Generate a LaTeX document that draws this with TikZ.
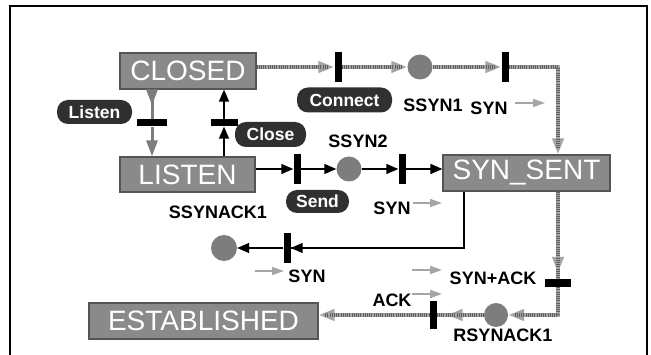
\documentclass[tikz,border=0pt]{standalone}
\usepackage{fontspec}
\setmainfont{Liberation Sans}
\usetikzlibrary{arrows.meta}
\definecolor{boxgray}{RGB}{138,138,138}
\definecolor{boxedge}{RGB}{85,85,85}
\definecolor{placegray}{RGB}{125,125,125}
\definecolor{pilldark}{RGB}{48,48,48}
\definecolor{ropegray}{RGB}{165,165,165}
\definecolor{ropestripe}{RGB}{95,95,95}
\definecolor{lightarrow}{RGB}{165,165,165}
\definecolor{listengray}{RGB}{125,125,125}
\begin{document}
\begin{tikzpicture}[x=1pt,y=-1pt,
  state/.style={draw=boxedge, line width=1.2pt, fill=boxgray, text=white,
    font=\fontsize{28}{30}\selectfont, inner sep=0pt},
  place/.style={circle, fill=placegray, minimum size=25pt, inner sep=0pt},
  vbar/.style={fill=black, minimum width=7pt, minimum height=30pt, inner sep=0pt},
  hbar/.style={fill=black, minimum width=30pt, minimum height=7pt, inner sep=0pt},
  pill/.style={fill=pilldark, text=white, rounded corners=11pt,
    font=\bfseries\fontsize{17.5}{19}\selectfont, inner sep=0pt},
  lbl/.style={font=\bfseries\fontsize{18}{20}\selectfont, inner sep=0pt},
  blk/.style={line width=1.5pt, draw=black, -{Triangle[length=12pt,width=10pt]}},
  blkline/.style={line width=1.5pt, draw=black},
  gry/.style={line width=1.5pt, draw=lightarrow, -{Triangle[length=12pt,width=8pt]}},
  gline/.style={line width=3pt, draw=listengray},
  garrow/.style={line width=3pt, draw=listengray, -{Triangle[length=16pt,width=11pt]}},
  rope/.style={line width=4pt, draw=ropegray, -{Triangle[length=16pt,width=11pt]},
    postaction={draw=ropestripe, arrows=-, line width=4pt,
      dash pattern=on 0.8pt off 1.4pt, shorten >=6pt}},
  ropeline/.style={line width=4pt, draw=ropegray,
    postaction={draw=ropestripe, line width=4pt, dash pattern=on 0.8pt off 1.4pt}}
]
\useasboundingbox (0,0) rectangle (651,355);
\fill[white] (0,0) rectangle (651,355);
\draw[line width=2.5pt] (10,355) -- (10,6) -- (647,6) -- (647,355);

% states
\node[state, minimum width=136pt, minimum height=36pt] (CLOSED) at (188,71) {CLOSED};
\node[state, minimum width=135pt, minimum height=35pt] (LISTEN) at (187.5,174.5) {LISTEN};
\node[state, minimum width=167pt, minimum height=36pt] (SYNSENT) at (526.5,173) {SYN\_SENT};
\node[state, minimum width=229pt, minimum height=36pt] (EST) at (203.5,321) {ESTABLISHED};

% top branch
\node[vbar] (b1) at (338,67) {};
\node[place] (S1) at (420,67) {};
\node[vbar] (b2) at (505,67) {};
\coordinate (c1) at (558,67);
\draw[rope] (CLOSED.east |- b1) -- (b1.west);
\draw[rope] (b1.east) -- (S1.west);
\draw[rope] (S1.east) -- (b2.west);
\draw[rope] (b2.east) -- (c1) -- (SYNSENT.north -| c1);
\node[pill, minimum width=95pt, minimum height=25pt] (connect) at (344.5,100) {Connect};
\node[lbl] (lS1) at (433,105) {SSYN1};
\node[lbl] (lsyn1) at (489,108) {SYN};
\coordinate (g1a) at (515,103);
\coordinate (g1b) at (545,103);
\draw[gry] (g1a) -- (g1b);

% Listen / Close
\node[hbar] (hb1) at (152,123) {};
\node[hbar, minimum width=27pt] (hb2) at (224,123) {};
\draw[gline] (hb1 |- CLOSED.south) -- (hb1.north);
\draw[garrow, shorten >=14pt] (hb1 |- CLOSED.south) -- (hb1.north);
\draw[garrow] (hb1.south) -- (hb1 |- LISTEN.north);
\draw[blk] (hb2 |- LISTEN.north) -- (hb2.south);
\draw[blk] (hb2.north) -- (hb2 |- CLOSED.south);
\node[pill, minimum width=75pt, minimum height=24pt] (listen) at (94.5,112) {Listen};
\node[pill, minimum width=71pt, minimum height=25pt] (close) at (270.5,134.5) {Close};

% middle branch
\node[vbar] (b3) at (297,169) {};
\node[place] (S2) at (349,169) {};
\node[vbar] (b4) at (402,169) {};
\draw[blk] (LISTEN.east |- b3) -- (b3.west);
\draw[blk] (b3.east) -- (S2.west);
\draw[blk] (S2.east) -- (b4.west);
\draw[blk] (b4.east) -- (SYNSENT.west |- b4);
\node[lbl] (lS2) at (358,141) {SSYN2};
\node[pill, minimum width=63pt, minimum height=23pt] (send) at (317.5,201.5) {Send};
\node[lbl] (lsyn2) at (392,208) {SYN};
\coordinate (g2a) at (413,203);
\coordinate (g2b) at (442,203);
\draw[gry] (g2a) -- (g2b);

% SYN_SENT -> SSYNACK1
\coordinate (c3) at (464,248);
\node[vbar] (b5) at (287,248) {};
\node[place, minimum size=26pt] (SA1) at (224,248) {};
\draw[blkline] (SYNSENT.south -| c3) -- (c3) -- (b5.east);
\draw[blk] (c3) -- (b5.east);
\draw[blk] (b5.west) -- (SA1.east);
\node[lbl] (lSA1) at (218,212) {SSYNACK1};
\node[lbl] (lsyn3) at (307,276) {SYN};
\coordinate (g3a) at (255,271);
\coordinate (g3b) at (284,271);
\draw[gry] (g3a) -- (g3b);

% SYN_SENT -> ESTABLISHED
\node[hbar, minimum width=26pt, minimum height=8pt] (hb6) at (558,283) {};
\coordinate (c2) at (558,315);
\node[place, minimum size=24pt] (RA1) at (496,315) {};
\node[vbar, minimum height=28pt] (b7) at (433,315) {};
\draw[rope, shorten >=6pt] (SYNSENT.south -| hb6) -- (hb6.north);
\draw[ropeline] (SYNSENT.south -| hb6) -- (hb6.north);
\draw[rope] (hb6.south) -- (c2) -- (RA1.east);
\draw[rope, shorten >=10pt] (RA1.west) -- (b7.east);
\draw[ropeline] (RA1.west) -- (b7.east);
\draw[rope] (b7.west) -- (EST.east |- b7);
\node[lbl] (lRA1) at (503,335) {RSYNACK1};
\node[lbl] (lsynack) at (493,278) {SYN+ACK};
\node[lbl] (lack) at (392,300) {ACK};
\coordinate (g4a) at (412,270);
\coordinate (g4b) at (442,270);
\draw[gry] (g4a) -- (g4b);
\coordinate (g5a) at (412,294);
\coordinate (g5b) at (442,294);
\draw[gry] (g5a) -- (g5b);
\end{tikzpicture}
\end{document}
